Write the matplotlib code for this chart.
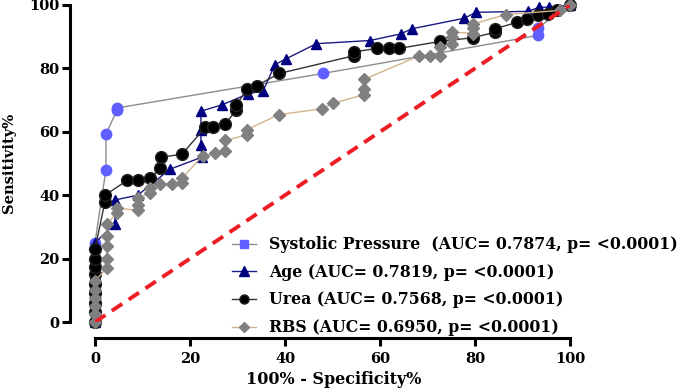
import matplotlib
matplotlib.use("Agg")
import matplotlib.pyplot as plt
from matplotlib.lines import Line2D

# ROC curves (x = 100% - specificity, y = sensitivity)
sys_x = [0, 0, 0, 0, 0, 0, 2.3, 2.3, 4.6, 4.6, 48, 93.3, 93.3, 100]
sys_y = [0, 5, 10, 15, 20, 25, 48, 59.2, 66.8, 67.5, 78.4, 90.4, 92.9, 100]

age_x = [0, 0, 0, 0, 0, 0, 4.2, 4.2, 9, 15.8, 22.5, 22.3, 22.3, 22.3, 26.7, 32.3,
         35.4, 37.9, 40.2, 46.6, 57.9, 64.4, 66.7, 77.7, 80.2, 91.2, 93.5, 95.6, 100]
age_y = [0, 5, 10, 15, 20, 25, 31, 38.5, 40, 48.2, 52, 55.7, 60.7, 66.5, 68.5, 72,
         73, 81.2, 83, 87.8, 88.8, 90.9, 92.5, 95.8, 97.7, 98, 99.3, 99.3, 100]

urea_x = [0, 0, 0, 0, 0, 0, 0, 0, 0, 2.1, 2.1, 6.8, 9.1, 11.6, 13.7, 13.9, 18.3,
          23.2, 24.8, 27.4, 29.7, 29.7, 32, 34.1, 38.8, 54.5, 54.5, 59.3, 61.8, 64,
          72.6, 79.6, 84.2, 84.2, 88.8, 90.9, 93.3, 95.4, 97.2, 100]
urea_y = [0, 3, 6, 9, 12, 15, 17.5, 20, 23, 38, 40, 44.7, 44.7, 45.3, 48.5, 52, 52.9,
          61.4, 61.4, 62.4, 66.8, 68.3, 73.5, 74.6, 78.4, 84, 85.2, 86.3, 86.3, 86.3,
          88.5, 89.7, 91.4, 92.5, 94.5, 95.6, 96.7, 97.2, 98.5, 100]

rbs_x = [0, 0, 0, 0, 0, 0, 2.5, 2.5, 2.5, 2.5, 2.5, 4.6, 4.6, 9, 9, 9, 11.6, 11.6,
         13.7, 16.2, 18.3, 18.3, 22.7, 25.3, 27.4, 27.4, 32, 32, 38.7, 47.8, 50.1,
         56.6, 56.6, 56.6, 68.3, 70.5, 72.7, 72.7, 75.2, 75.2, 75.2, 79.6, 79.6,
         79.6, 86.5, 97.9, 100]
rbs_y = [0, 2.5, 5, 7.5, 10, 13, 17, 20, 24, 27, 31, 34.3, 36, 35.2, 37, 39, 40.6,
         42.2, 43.5, 43.5, 43.8, 45.3, 52.5, 53.2, 54, 57.3, 59, 60.7, 65.4, 67.3,
         69, 71.7, 73.6, 76.5, 84, 84, 84, 86.6, 87.8, 89.9, 91.5, 91, 92.7, 94,
         97, 98.3, 100]

labels = ["Systolic Pressure  (AUC= 0.7874, p= <0.0001)",
          "Age (AUC= 0.7819, p= <0.0001)",
          "Urea (AUC= 0.7568, p= <0.0001)",
          "RBS (AUC= 0.6950, p= <0.0001)"]
ticks = [0, 20, 40, 60, 80, 100]

font = {"family": "DejaVu Serif", "weight": "bold"}

fig = plt.figure(figsize=(6.85, 3.88), dpi=100)
ax = fig.add_axes([95 / 685, 66 / 388, 475 / 685, 317 / 388])

ax.plot(sys_x, sys_y, color="#8c8c8c", lw=1, marker="o", ms=7.5,
        mfc="#5f5fff", mec="#5f5fff", clip_on=False, zorder=3)
ax.plot(age_x, age_y, color="#1a1a80", lw=1, marker="^", ms=7.5,
        mfc="#000080", mec="#000080", clip_on=False, zorder=4)
ax.plot(urea_x, urea_y, color="#333333", lw=1, marker="o", ms=8.5,
        mfc="#000000", mec="#222222", clip_on=False, zorder=5)
ax.plot(rbs_x, rbs_y, color="#d2b48c", lw=1, marker="D", ms=6.5,
        mfc="#808080", mec="#808080", clip_on=False, zorder=6)
ax.plot([0, 100], [0, 100], color="#ee1c25", lw=2.8, dashes=(3.2, 2.0), zorder=7)

ax.set_xlim(0, 100)
ax.set_ylim(0, 100)
ax.set_xticks(ticks)
ax.set_yticks(ticks)
for s in ["top", "right"]:
    ax.spines[s].set_visible(False)
ax.spines["left"].set_position(("outward", 18))
ax.spines["bottom"].set_position(("outward", 11.5))
for s in ["left", "bottom"]:
    ax.spines[s].set_linewidth(2.2)
    ax.spines[s].set_bounds(0, 100)
ax.tick_params(width=2.2, length=5.8, labelsize=10.5, pad=2)
ax.tick_params(axis="x", pad=4)
for lab in ax.get_xticklabels() + ax.get_yticklabels():
    lab.set_fontfamily("DejaVu Serif")
    lab.set_fontweight("bold")

fig.text(334 / 685, 1 - 379 / 388, "100% - Specificity%", ha="center", va="center",
         fontsize=11.5, **font)
fig.text(9 / 685, 1 - 163 / 388, "Sensitivity%", ha="center", va="center",
         rotation=90, fontsize=10.5, **font)

handles = [
    Line2D([], [], color="#8c8c8c", lw=1, marker="s", ms=6, mfc="#5f5fff", mec="#5f5fff"),
    Line2D([], [], color="#1a1a80", lw=1, marker="^", ms=6.5, mfc="#000080", mec="#000080"),
    Line2D([], [], color="#333333", lw=1, marker="o", ms=6.5, mfc="#000000", mec="#222222"),
    Line2D([], [], color="#d2b48c", lw=1, marker="D", ms=5, mfc="#808080", mec="#808080"),
]
leg = fig.legend(handles, labels, loc="upper left",
                 bbox_to_anchor=(232 / 685, 1 - 236 / 388),
                 frameon=False, borderpad=0, borderaxespad=0,
                 handlelength=1.5, handletextpad=0.85, labelspacing=0.68,
                 prop={"family": "DejaVu Serif", "weight": "bold", "size": 11.3})

fig.savefig("out.png", dpi=100)
